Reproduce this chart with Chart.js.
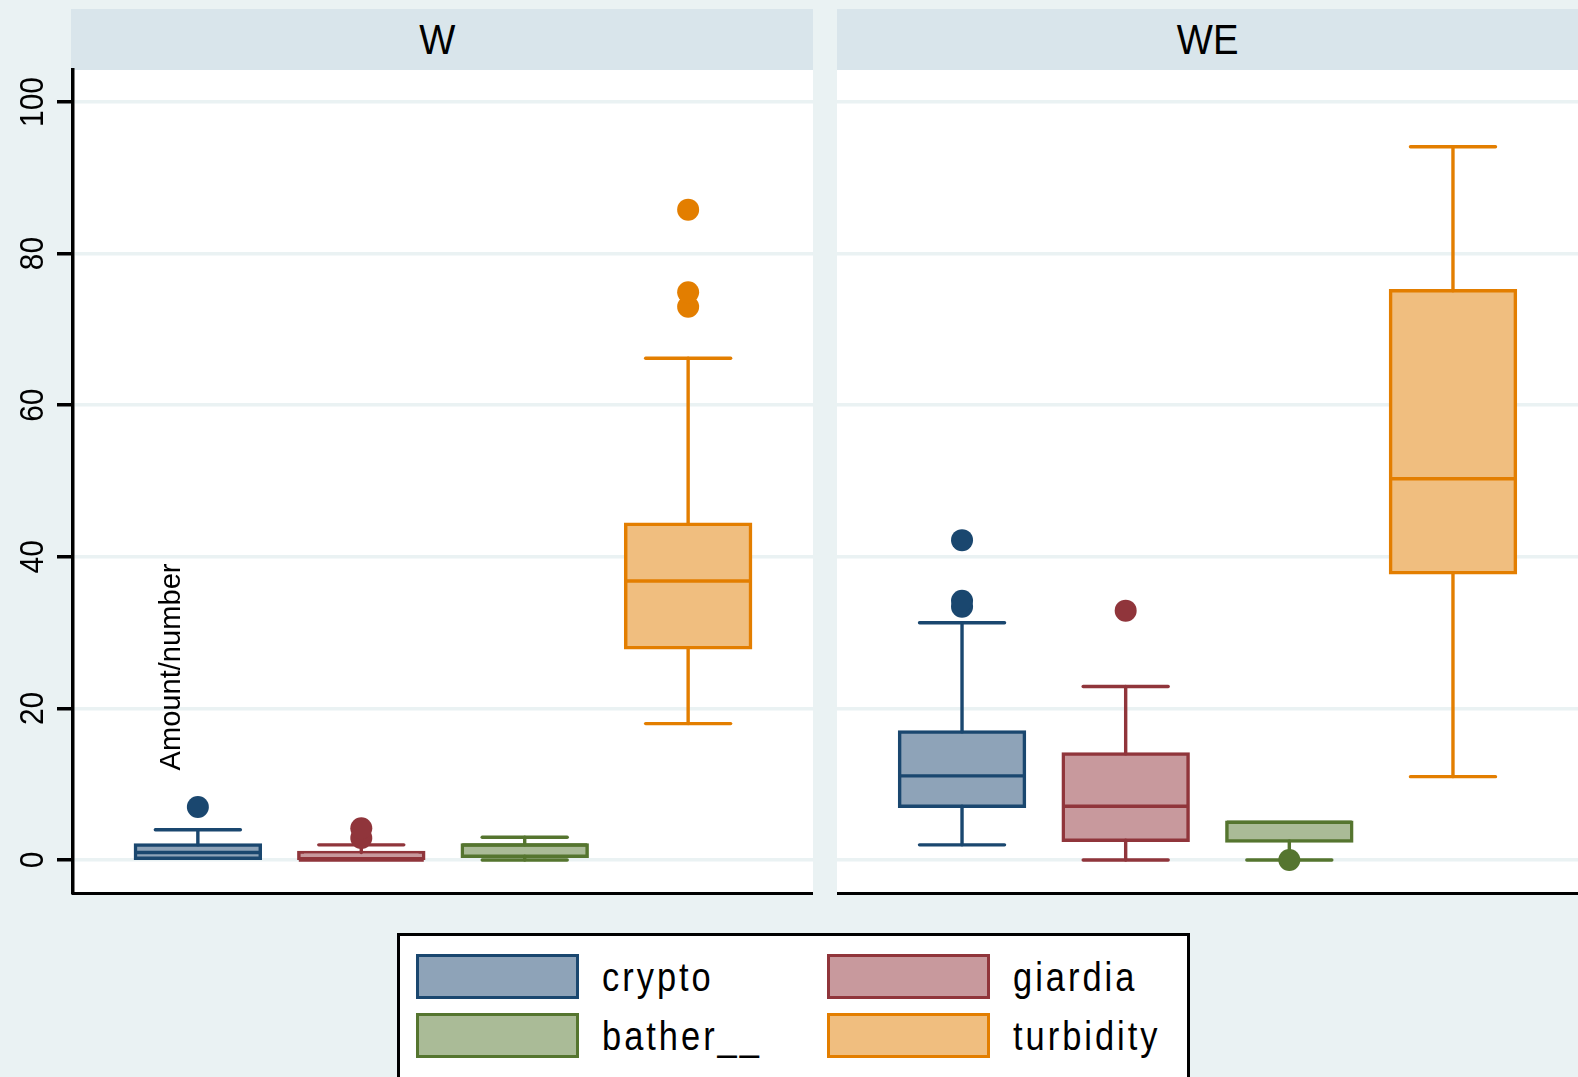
<!DOCTYPE html>
<html>
<head>
<meta charset="utf-8">
<script src="https://cdn.jsdelivr.net/npm/chart.js@4/dist/chart.umd.min.js"></script>
<style>
  html, body { margin: 0; padding: 0; background: #eaf2f3; width: 1578px; height: 1077px; overflow: hidden;
               font-family: "Liberation Sans", Arial, sans-serif; }
  .panel { position: absolute; top: 0; }
  .head { position: absolute; top: 9px; height: 61px; background: #d9e5eb;
          display: flex; align-items: center; justify-content: center; }
  .head span { font-size: 43px; display: inline-block; transform: scaleX(0.89); color: #000; }
  #legendBox { position: absolute; left: 397px; top: 933px; width: 793px; height: 160px;
               background: #fff; border: 3px solid #000; box-sizing: border-box; }
  .sw { position: absolute; width: 157px; height: 39px; border: 3px solid; }
  .lab { position: absolute; height: 45px; line-height: 45px; font-size: 40px; letter-spacing: 3.5px;
         transform: scaleX(0.86); transform-origin: left center; color: #000; white-space: nowrap; }
</style>
</head>
<body>
<div class="head" style="left:71px;width:742px;"><span id="h0" style="margin-right:10px;"></span></div>
<div class="head" style="left:837px;width:741px;"><span id="h1"></span></div>
<div class="panel" style="left:0;"><canvas id="cW" width="813" height="900"></canvas></div>
<div class="panel" style="left:837px;"><canvas id="cWE" width="741" height="900"></canvas></div>
<div id="legendBox"></div>
<div id="legendItems"></div>
<script>
// ---- data ----
const panels = ['W', 'WE'];
const series = ['crypto', 'giardia', 'bather__', 'turbidity'];
const positions = [1, 2, 3, 4];
const yTicks = [0, 20, 40, 60, 80, 100];
const yTitle = 'Amount/number';

// box statistics per series (crypto, giardia, bather__, turbidity)
const lowerW    = [0, 0, 0, 18];
const q1W       = [0, 0, 0.5, 28];
const medianW   = [1, 0, 2, 36.8];
const q3W       = [2, 1, 2, 44.3];
const upperW    = [4, 2, 3, 66.2];
const outliersW = [[7], [2.9, 4.2], [], [73, 74.9, 85.8]];

const lowerWE    = [2, 0, 0, 11];
const q1WE       = [7.1, 2.6, 2.5, 37.9];
const medianWE   = [11.1, 7.1, 5, 50.3];
const q3WE       = [16.9, 14, 5, 75.1];
const upperWE    = [31.3, 22.9, 5, 94.1];
const outliersWE = [[33.4, 34.2, 42.2], [32.9], [0], []];

// ---- style ----
const lineColors = ['#1a476f', '#90353b', '#55752f', '#e37e00'];
const fillColors = ['#8ea3b8', '#c8999d', '#aabb97', '#f0be7f'];
const FONT = '"Liberation Sans", Arial, sans-serif';

// white plot region
const plotBg = {
  id: 'plotBg',
  beforeDraw(chart) {
    const { ctx, chartArea: a } = chart;
    ctx.save();
    ctx.fillStyle = '#ffffff';
    ctx.fillRect(a.left, a.top, a.right - a.left, a.bottom - a.top + 1);
    ctx.restore();
  }
};

// whiskers, caps and median line for each box
const boxParts = {
  id: 'boxParts',
  afterDatasetDraw(chart, args) {
    const ds = chart.data.datasets[args.index];
    if (!ds.box) return;
    const el = args.meta.data[0];
    if (!el) return;
    const y = v => chart.scales.y.getPixelForValue(v);
    const ctx = chart.ctx;
    const b = ds.box;
    const cx = el.x;
    const cap = el.width * 0.34;
    const half = el.width / 2;
    const seg = (x1, y1, x2, y2) => { ctx.beginPath(); ctx.moveTo(x1, y1); ctx.lineTo(x2, y2); ctx.stroke(); };
    ctx.save();
    ctx.strokeStyle = ds.borderColor;
    ctx.lineWidth = 3.4;
    ctx.lineCap = 'round';
    if (b.hi > b.q3) { seg(cx, y(b.q3), cx, y(b.hi)); seg(cx - cap, y(b.hi), cx + cap, y(b.hi)); }
    if (b.lo < b.q1) { seg(cx, y(b.q1), cx, y(b.lo)); seg(cx - cap, y(b.lo), cx + cap, y(b.lo)); }
    ctx.lineCap = 'butt';
    seg(cx - half, y(b.med), cx + half, y(b.med));
    ctx.restore();
  }
};

// vertical tick labels and axis title
const yLabels = {
  id: 'yLabels',
  afterDraw(chart) {
    const s = chart.scales.y;
    const ctx = chart.ctx;
    ctx.save();
    ctx.fillStyle = '#000';
    ctx.textAlign = 'center';
    ctx.textBaseline = 'alphabetic';
    ctx.font = '34px ' + FONT;
    s.ticks.forEach((t, i) => {
      const py = s.getPixelForTick(i);
      ctx.save();
      ctx.translate(43, py);
      ctx.rotate(-Math.PI / 2);
      ctx.scale(0.88, 1);
      ctx.fillText(String(t.value), 0, 0);
      ctx.restore();
    });
    ctx.font = '30px ' + FONT;
    ctx.save();
    ctx.translate(180, 667);
    ctx.rotate(-Math.PI / 2);
    ctx.scale(0.97, 1);
    ctx.fillText(yTitle, 0, 0);
    ctx.restore();
    ctx.restore();
  }
};

function buildChart(id, lower, q1, median, q3, upper, outliers, withAxis) {
  const datasets = [];
  series.forEach((name, i) => {
    datasets.push({
      type: 'bar',
      label: name,
      data: [{ x: positions[i], y: [q1[i], q3[i]] }],
      backgroundColor: fillColors[i],
      borderColor: lineColors[i],
      borderWidth: 3.5,
      borderSkipped: false,
      inflateAmount: 1.7,
      barThickness: 125,
      grouped: false,
      order: 2,
      box: { lo: lower[i], q1: q1[i], med: median[i], q3: q3[i], hi: upper[i] }
    });
  });
  series.forEach((name, i) => {
    datasets.push({
      type: 'scatter',
      label: name,
      data: outliers[i].map(v => ({ x: positions[i], y: v })),
      backgroundColor: lineColors[i],
      borderColor: lineColors[i],
      pointRadius: 11,
      pointBorderWidth: 0,
      order: 1
    });
  });

  const plugins = [plotBg, boxParts];
  if (withAxis) plugins.push(yLabels);

  return new Chart(document.getElementById(id), {
    type: 'bar',
    data: { datasets },
    plugins,
    options: {
      responsive: false,
      animation: false,
      devicePixelRatio: 1,
      events: [],
      layout: { autoPadding: false, padding: { top: 70, bottom: 7, left: 0, right: 0 } },
      plugins: { legend: { display: false }, tooltip: { enabled: false }, title: { display: false } },
      scales: {
        x: {
          type: 'linear',
          offset: false,
          min: 0.236,
          max: 4.764,
          afterBuildTicks(s) { s.ticks = positions.map(v => ({ value: v })); },
          ticks: { display: false },
          grid: { display: true, offset: false, drawOnChartArea: false, drawTicks: false },
          border: { display: true, color: '#000', width: 3 },
          afterFit(s) { s.height = 0; }
        },
        y: {
          type: 'linear',
          min: -4.35,
          max: 104.22,
          afterBuildTicks(s) { s.ticks = yTicks.map(v => ({ value: v })); },
          ticks: { display: false },
          grid: { color: '#eaf2f3', lineWidth: 3.5, drawTicks: withAxis, tickLength: 16,
                  tickColor: '#000', tickWidth: 3.5 },
          border: { display: withAxis, color: '#000', width: 3.5 },
          afterFit(s) { s.width = withAxis ? 73 : 0; }
        }
      }
    }
  });
}

document.getElementById('h0').textContent = panels[0];
document.getElementById('h1').textContent = panels[1];

buildChart('cW', lowerW, q1W, medianW, q3W, upperW, outliersW, true);
buildChart('cWE', lowerWE, q1WE, medianWE, q3WE, upperWE, outliersWE, false);

// legend: two columns, two rows
const legendSlots = [
  { sx: 416, sy: 954 }, { sx: 827, sy: 954 },
  { sx: 416, sy: 1013 }, { sx: 827, sy: 1013 }
];
const items = document.getElementById('legendItems');
series.forEach((name, i) => {
  const slot = legendSlots[i];
  const sw = document.createElement('div');
  sw.className = 'sw';
  sw.style.left = slot.sx + 'px';
  sw.style.top = slot.sy + 'px';
  sw.style.background = fillColors[i];
  sw.style.borderColor = lineColors[i];
  items.appendChild(sw);
  const lab = document.createElement('div');
  lab.className = 'lab';
  lab.style.left = (slot.sx + 186) + 'px';
  lab.style.top = (slot.sy + 1) + 'px';
  lab.textContent = name;
  items.appendChild(lab);
});
</script>
</body>
</html>
